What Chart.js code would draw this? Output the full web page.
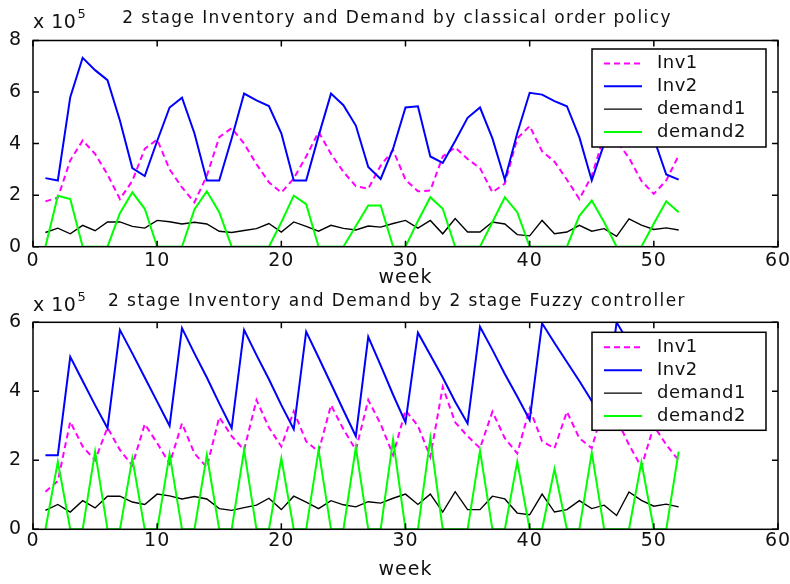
<!DOCTYPE html>
<html>
<head>
<meta charset="utf-8">
<script src="https://cdn.jsdelivr.net/npm/chart.js@4.4.1/dist/chart.umd.min.js"></script>
<style>
  html, body { margin: 0; padding: 0; background: #fff; }
  #wrap { position: relative; width: 790px; height: 584px; }
  canvas { position: absolute; left: 0; }
</style>
</head>
<body>
<div id="wrap">
  <canvas id="classic" width="790" height="292" style="top:0;width:790px;height:292px"></canvas>
  <canvas id="fuzzy" width="790" height="292" style="top:292px;width:790px;height:292px"></canvas>
</div>
<script>
const weeks = [1, 2, 3, 4, 5, 6, 7, 8, 9, 10, 11, 12, 13, 14, 15, 16, 17, 18, 19, 20,
  21, 22, 23, 24, 25, 26, 27, 28, 29, 30, 31, 32, 33, 34, 35, 36, 37, 38, 39, 40,
  41, 42, 43, 44, 45, 46, 47, 48, 49, 50, 51, 52];

// all values in units of 10^5
// classical order policy
const inv1Classic = [1.76, 1.9, 3.35, 4.12, 3.6, 2.8, 1.85, 2.55, 3.8, 4.16,
  3.0, 2.3, 1.72, 2.75, 4.25, 4.6, 4.0, 3.2, 2.5, 2.1,
  2.65, 3.5, 4.45, 3.6, 2.9, 2.35, 2.25, 3.15, 3.75, 2.6,
  2.15, 2.18, 3.5, 3.85, 3.4, 3.05, 2.11, 2.45, 4.2, 4.68,
  3.7, 3.3, 2.6, 1.85, 2.75, 4.3, 4.1, 3.45, 2.55, 2.05,
  2.57, 3.54];
const inv2Classic = [2.66, 2.57, 5.8, 7.33, 6.85, 6.46, 4.9, 3.05, 2.74, 4.1,
  5.4, 5.78, 4.4, 2.57, 2.57, 4.2, 5.94, 5.68, 5.46, 4.4,
  2.57, 2.57, 4.3, 5.94, 5.49, 4.7, 3.09, 2.63, 3.8, 5.4,
  5.45, 3.5, 3.25, 4.1, 5.0, 5.4, 4.2, 2.6, 4.4, 5.97,
  5.9, 5.65, 5.45, 4.25, 2.57, 4.0, 5.8, 5.6, 5.3, 4.2,
  2.8, 2.6];
const demand2Classic = [0, 1.98, 1.85, 0, 0, 0, 1.3, 2.11, 1.47, 0,
  0, 0, 1.45, 2.15, 1.34, 0, 0, 0, 0, 0.95,
  1.98, 1.65, 0, 0, 0, 0.8, 1.6, 1.6, 0, 0,
  1.0, 1.92, 1.47, 0, 0, 0, 0.96, 1.92, 1.34, 0,
  0, 0, 0, 1.2, 1.79, 0.95, 0, 0, 0, 0.9,
  1.76, 1.34];

// 2 stage fuzzy controller
const inv1Fuzzy = [1.09, 1.4, 3.12, 2.4, 2.0, 2.95, 2.3, 1.85, 3.05, 2.5,
  1.9, 3.07, 2.2, 1.8, 3.25, 2.7, 2.3, 3.75, 2.95, 2.4,
  3.42, 2.55, 2.25, 3.6, 2.9, 2.3, 3.75, 3.05, 2.15, 3.45,
  3.0, 2.1, 4.13, 3.1, 2.7, 2.35, 3.41, 2.64, 2.2, 3.5,
  2.55, 2.35, 3.41, 2.64, 2.35, 3.6, 3.2, 2.45, 1.8, 3.0,
  2.45, 2.0];
const inv2Fuzzy = [2.15, 2.15, 5.0, 4.3, 3.6, 2.93, 5.78, 5.1, 4.4, 3.7,
  3.0, 5.83, 5.1, 4.4, 3.65, 2.93, 5.78, 5.05, 4.35, 3.6,
  2.9, 5.73, 4.98, 4.22, 3.45, 2.7, 5.58, 4.75, 3.9, 3.1,
  5.7, 5.05, 4.4, 3.7, 3.07, 5.87, 5.2, 4.5, 3.85, 3.17,
  5.97, 5.4, 4.85, 4.3, 3.72, 3.2, 6.0, 5.4, 4.85, 4.3,
  3.8, 3.3];
const demand2Fuzzy = [0, 1.96, 0, 0, 2.25, 0, 0, 2.05, 0, 0,
  2.18, 0, 0, 2.15, 0, 0, 2.3, 0, 0, 2.06,
  0, 0, 2.3, 0, 0, 2.37, 0, 0, 2.6, 0,
  0, 2.64, 0, 0, 0, 2.28, 0, 0, 1.96, 0,
  0, 1.75, 0, 0, 2.22, 0, 0, 0, 1.95, 0,
  0, 2.25];

// customer demand, the same in both runs
const demand1 = [0.55, 0.72, 0.5, 0.83, 0.62, 0.96, 0.96, 0.79, 0.72, 1.02,
  0.97, 0.88, 0.95, 0.88, 0.6, 0.55, 0.63, 0.7, 0.9, 0.57,
  0.96, 0.79, 0.6, 0.83, 0.71, 0.65, 0.8, 0.76, 0.9, 1.02,
  0.72, 1.02, 0.5, 1.09, 0.57, 0.57, 0.96, 0.88, 0.47, 0.42,
  1.02, 0.5, 0.57, 0.83, 0.6, 0.7, 0.4, 1.08, 0.84, 0.67,
  0.73, 0.65];

const xTicks = [0, 10, 20, 30, 40, 50, 60];
const yTicksClassic = [0, 2, 4, 6, 8];
const yTicksFuzzy = [0, 2, 4, 6];

const FONT = 'DejaVu Sans';
const tickFont = { family: FONT, size: 19, lineHeight: 1 };

// letter spacing for the tick labels (canvas state is reset when the chart sizes it)
const textSpacing = {
  id: 'textSpacing',
  beforeUpdate(chart) { chart.ctx.letterSpacing = '1px'; },
  beforeDraw(chart) { chart.ctx.letterSpacing = '1px'; }
};

// matlab style box with inward ticks on all four sides
const axesBox = {
  id: 'axesBox',
  afterDatasetsDraw(chart) {
    const { ctx, chartArea: a, scales: { x, y } } = chart;
    const len = 6;
    ctx.save();
    ctx.strokeStyle = '#000';
    ctx.lineWidth = 1.5;
    ctx.beginPath();
    x.ticks.forEach(t => {
      const px = x.getPixelForValue(t.value);
      ctx.moveTo(px, a.bottom); ctx.lineTo(px, a.bottom - len);
      ctx.moveTo(px, a.top); ctx.lineTo(px, a.top + len);
    });
    y.ticks.forEach(t => {
      const py = y.getPixelForValue(t.value);
      ctx.moveTo(a.left, py); ctx.lineTo(a.left + len, py);
      ctx.moveTo(a.right, py); ctx.lineTo(a.right - len, py);
    });
    ctx.stroke();
    ctx.strokeRect(a.left, a.top, a.right - a.left, a.bottom - a.top);
    ctx.restore();
  }
};

// boxed legend inside the axes
const boxLegend = {
  id: 'boxLegend',
  afterDraw(chart, args, o) {
    const { ctx } = chart;
    ctx.save();
    ctx.fillStyle = '#fff';
    ctx.fillRect(o.left, o.top, o.width, o.height);
    ctx.strokeStyle = '#000';
    ctx.lineWidth = 1.5;
    ctx.strokeRect(o.left, o.top, o.width, o.height);
    ctx.font = `18px ${FONT}`;
    ctx.letterSpacing = '0.5px';
    ctx.textBaseline = 'middle';
    chart.data.datasets.forEach((ds, i) => {
      const cy = o.top + o.firstRow + i * o.rowGap;
      ctx.strokeStyle = ds.borderColor;
      ctx.lineWidth = ds.borderWidth;
      ctx.setLineDash(ds.borderDash || []);
      ctx.beginPath();
      ctx.moveTo(o.left + 12, cy);
      ctx.lineTo(o.left + 50, cy);
      ctx.stroke();
      ctx.setLineDash([]);
      ctx.fillStyle = '#111';
      ctx.fillText(ds.label, o.left + 65, cy);
    });
    ctx.restore();
  }
};

// title and the x 10^5 multiplier
const figureText = {
  id: 'figureText',
  afterDraw(chart, args, o) {
    const { ctx, chartArea: a } = chart;
    ctx.save();
    ctx.fillStyle = '#111';
    ctx.textBaseline = 'middle';
    ctx.textAlign = 'center';
    ctx.font = `17px ${FONT}`;
    ctx.letterSpacing = '1.4px';
    ctx.fillText(o.title, o.titleX, o.titleY);
    ctx.textAlign = 'left';
    ctx.letterSpacing = '0.5px';
    ctx.font = `19px ${FONT}`;
    ctx.fillText('x 10', a.left, o.expY);
    const w = ctx.measureText('x 10').width;
    ctx.font = `13px ${FONT}`;
    ctx.fillText('5', a.left + w + 1, o.expY - 8);
    ctx.restore();
  }
};

function buildChart(id, p) {
  const base = { pointRadius: 0, tension: 0, fill: false };
  return new Chart(document.getElementById(id), {
    type: 'line',
    data: {
      labels: weeks,
      datasets: [
        { ...base, label: 'Inv1', data: p.inv1, borderColor: '#ff00ff', borderDash: [6, 4], borderWidth: 2, order: 4 },
        { ...base, label: 'Inv2', data: p.inv2, borderColor: '#0000ff', borderWidth: 2, order: 3 },
        { ...base, label: 'demand1', data: demand1, borderColor: '#000000', borderWidth: 1.4, order: 2 },
        { ...base, label: 'demand2', data: p.demand2, borderColor: '#00ff00', borderWidth: 2, order: 1 }
      ]
    },
    plugins: [textSpacing, axesBox, boxLegend, figureText],
    options: {
      responsive: false,
      animation: false,
      devicePixelRatio: 1,
      events: [],
      layout: { padding: { top: p.padTop, right: 12, left: 0, bottom: 0 } },
      scales: {
        x: {
          type: 'linear',
          min: 0, max: 60,
          afterBuildTicks: s => { s.ticks = xTicks.map(v => ({ value: v })); },
          ticks: { color: '#111', font: tickFont, padding: p.xTickPad, autoSkip: false, maxRotation: 0 },
          grid: { display: false, drawTicks: false },
          border: { display: false },
          title: { display: true, text: 'week', color: '#111', font: tickFont, padding: { top: 0, bottom: 4.5 } },
          afterFit: s => { s.height = p.xHeight; s.paddingLeft = 0; s.paddingRight = 0; }
        },
        y: {
          min: 0, max: p.yMax,
          afterBuildTicks: s => { s.ticks = p.yTicks.map(v => ({ value: v })); },
          ticks: { color: '#111', font: tickFont, padding: 11 },
          grid: { display: false, drawTicks: false },
          border: { display: false },
          afterFit: s => { s.width = 33; s.paddingTop = 0; s.paddingBottom = 0; }
        }
      },
      plugins: {
        legend: { display: false },
        tooltip: { enabled: false },
        boxLegend: p.legend,
        figureText: p.text
      }
    }
  });
}

buildChart('classic', {
  inv1: inv1Classic, inv2: inv2Classic, demand2: demand2Classic,
  yMax: 8, yTicks: yTicksClassic,
  padTop: 40.5, xHeight: 45.3, xTickPad: 4.5,
  legend: { left: 592, top: 49, width: 174, height: 98, firstRow: 14.5, rowGap: 22.8 },
  text: { title: '2 stage Inventory and Demand by classical order policy', titleX: 397, titleY: 19, expY: 23 }
});

buildChart('fuzzy', {
  inv1: inv1Fuzzy, inv2: inv2Fuzzy, demand2: demand2Fuzzy,
  yMax: 6, yTicks: yTicksFuzzy,
  padTop: 30.3, xHeight: 54.7, xTickPad: 2,
  legend: { left: 592, top: 40.3, width: 174, height: 98, firstRow: 15, rowGap: 22.9 },
  text: { title: '2 stage Inventory and Demand by 2 stage Fuzzy controller', titleX: 397, titleY: 9.7, expY: 14 }
});
</script>
</body>
</html>
